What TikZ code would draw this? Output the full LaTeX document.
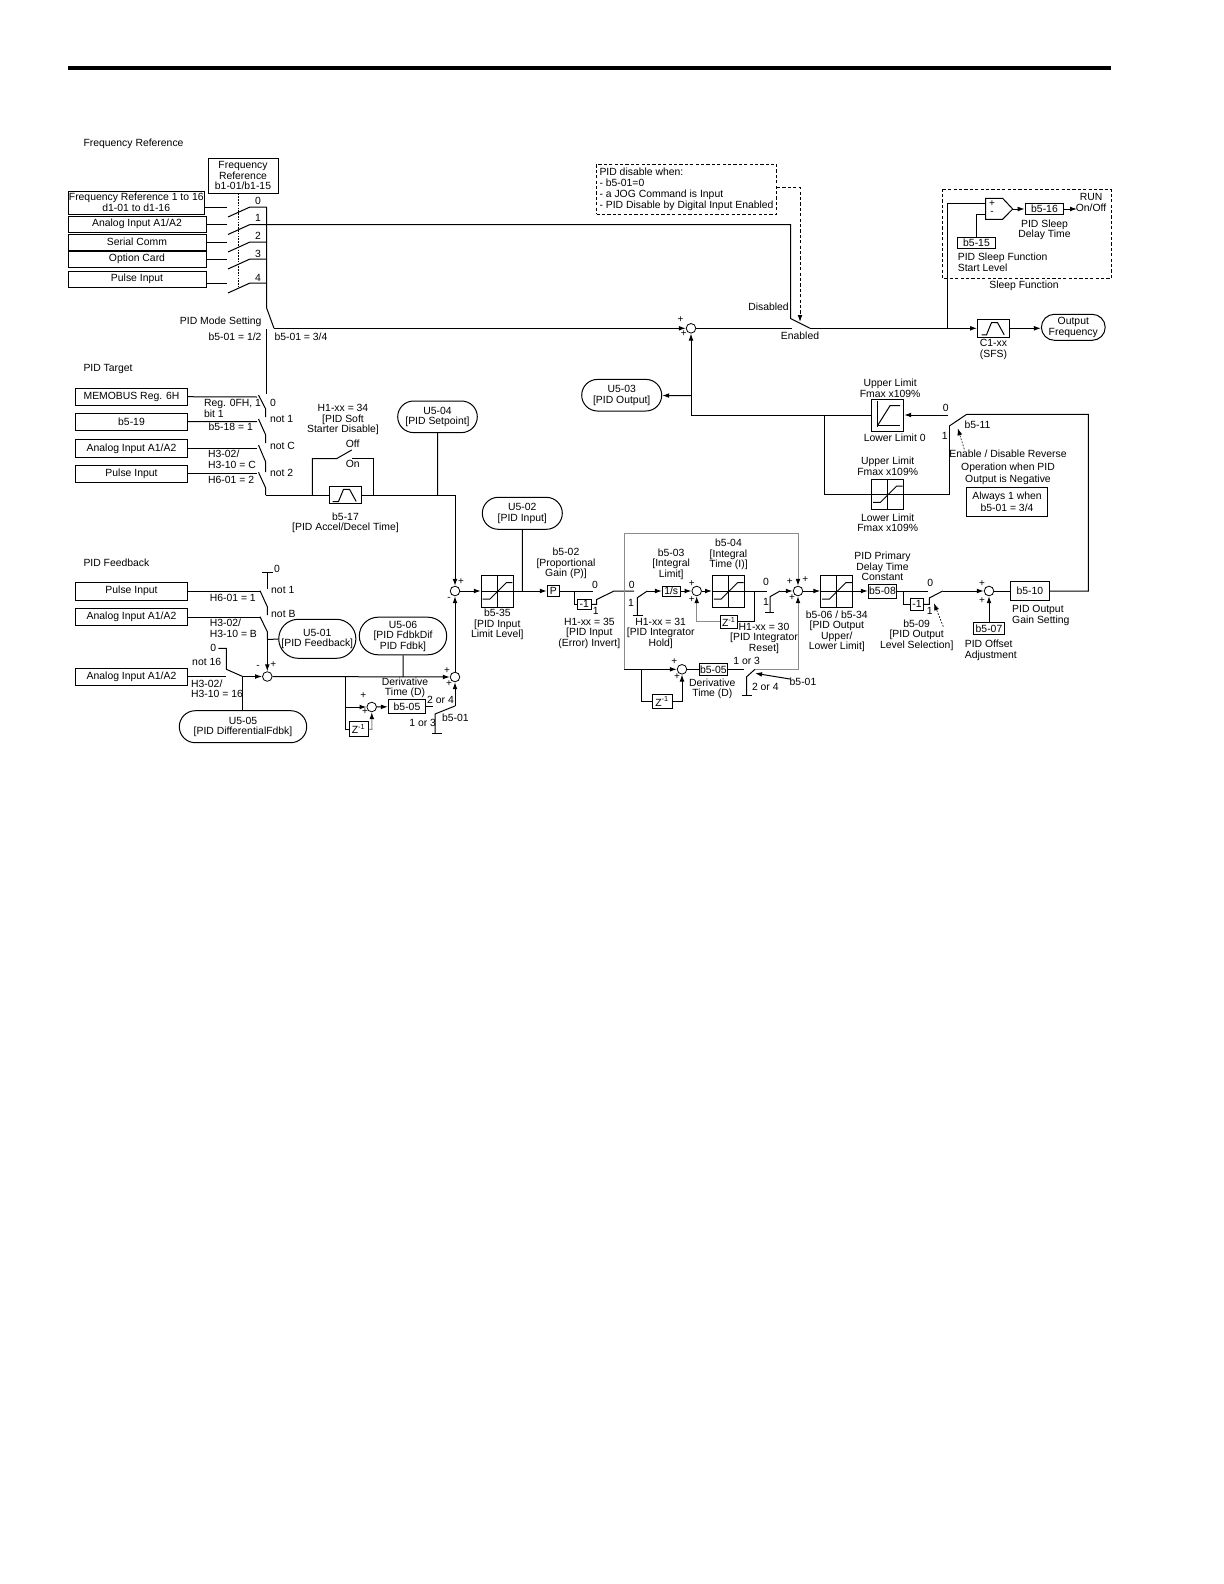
\documentclass[tikz,border=0pt]{standalone}
\usepackage{fontspec}
\setmainfont{Liberation Sans}
\usetikzlibrary{positioning,arrows.meta,shapes.misc}

\begin{document}
\begin{tikzpicture}[x=0.5pt,y=-0.5pt,line width=0.5pt,>={Latex[length=3.5pt,width=2.4pt]}]
    \tikzstyle{lbl}=[font=\fontsize{5.2}{5.25}\selectfont, inner sep=0pt, align=center]
    \tikzstyle{lbll}=[lbl, anchor=west, align=left]
    \tikzstyle{box}=[draw, rectangle, lbl]
    \tikzstyle{srcbox}=[box, minimum width=56.2pt]
    \tikzstyle{pill}=[draw, rounded rectangle, lbl]
    \tikzstyle{sum}=[circle, draw, fill=white, minimum size=4.8pt, inner sep=0pt, line width=0.4pt]
    \tikzstyle{lim}=[box, minimum width=16pt, minimum height=16pt]
    \tikzstyle{sg}=[lbl, font=\fontsize{5}{5}\selectfont]
    \tikzstyle{grayln}=[draw=black!45]
    \tikzstyle{dsh}=[dash pattern=on 1.6pt off 1.1pt]
    \tikzstyle{ptr}=[dash pattern=on 0.9pt off 0.7pt, line width=0.3pt]
    \useasboundingbox (0,0) rectangle (1224,1584);

    % Page rule
    \coordinate (RL) at (68,68);
    \coordinate (RR) at (1111,68);
    \draw[line width=2pt] (RL) -- (RR);

    % Frequency reference sources
    \node[lbll] (tFreq) at (83,143.5) {Frequency Reference};
    \node[box, minimum width=35pt, minimum height=17.5pt] (FRB) at (243,175.5) {Frequency\\Reference\\b1-01/b1-15};
    \node[box, minimum width=68.25pt, minimum height=11.5pt] (FS0) at (136.25,202.5) {Frequency Reference 1 to 16\\d1-01 to d1-16};
    \node[box, minimum width=69pt, minimum height=8pt] (FS1) at (137,224) {Analog Input A1/A2};
    \node[box, minimum width=69pt, minimum height=8pt] (FS2) at (137,242.25) {Serial Comm};
    \node[box, minimum width=69pt, minimum height=8pt] (FS3) at (137,259) {Option Card};
    \node[box, minimum width=69pt, minimum height=8pt] (FS4) at (137,279) {Pulse Input};

    % Frequency reference switch
    \foreach \n/\y/\t in {0/207/200.5,1/224.5/218,2/242/235.5,3/259/253.5,4/283/277.5} {
        \coordinate (FI\n) at (226.5,\y);
        \coordinate (FA\n) at (228,\y+10);
        \coordinate (FB\n) at (250,\y);
        \coordinate (FC\n) at (266.5,\y);
        \node[lbl] (fl\n) at (258,\t) {\n};
        \draw (FS\n.east |- FI\n) -- (FI\n);
        \draw (FA\n) -- (FB\n) -- (FC\n);
    }
    \coordinate (DT) at (238,287);
    \draw[dash pattern=on 0.8pt off 0.6pt] (FRB.south -| DT) -- (DT);

    % PID mode switch
    \coordinate (MA) at (266.5,307.7);
    \coordinate (MB) at (274,328.3);
    \coordinate (MC) at (266.5,329);
    \coordinate (TT) at (266.5,394);
    \draw (FC0) -- (MA) -- (MB);
    \draw (MC) -- (TT);
    \node[lbl, anchor=east] (tMode) at (262,321.5) {PID Mode Setting};
    \node[lbl, anchor=east] (tM12) at (262,337) {b5-01 = 1/2};
    \node[lbll] (tM34) at (274,337) {b5-01 = 3/4};

    % PID target sources
    \node[lbll] (tTarget) at (83,368.5) {PID Target};
    \node[srcbox, minimum height=8.5pt] (TS0) at (131.5,396.5) {MEMOBUS Reg. 6H};
    \node[srcbox, minimum height=8.7pt] (TS1) at (131.5,421.8) {b5-19};
    \node[srcbox, minimum height=8.8pt] (TS2) at (131.5,448.5) {Analog Input A1/A2};
    \node[srcbox, minimum height=8.5pt] (TS3) at (131.5,473.5) {Pulse Input};
    \foreach \n/\y/\a/\b/\c in {0/397/395/409/417,1/421.5/419/435/443,2/448.5/445/462/472,3/473.5/472.3/488/495} {
        \coordinate (TI\n) at (257,\y);
        \coordinate (TA\n) at (258.5,\a);
        \coordinate (TB\n) at (265.7,\b);
        \coordinate (TC\n) at (265.7,\c);
        \draw (TS\n) -- (TI\n);
        \draw (TA\n) -- (TB\n) -- (TC\n);
    }
    \node[lbll] (tReg) at (203.5,408.5) {Reg. 0FH, 1\\bit 1};
    \node[lbl] (tB18) at (230.7,427) {b5-18 = 1};
    \node[lbll] (tH3c) at (207.7,459.5) {H3-02/\\H3-10 = C};
    \node[lbll] (tH6a) at (207.7,479.5) {H6-01 = 2};
    \node[lbll] (tt0) at (269.5,403.3) {0};
    \node[lbll] (tt1) at (269.5,419) {not 1};
    \node[lbll] (tt2) at (269.5,446) {not C};
    \node[lbll] (tt3) at (269.5,473.3) {not 2};

    % PID soft starter
    \node[box, minimum width=16.2pt, minimum height=8.5pt] (B17) at (345.5,495) {};
    \draw[shift={(B17.center)}] (-13,6.5) -- (-7,6.5) -- (-2,-5.7) -- (4,-5.7) -- (10.7,6.5);
    \node[lbl, below=4.2pt of B17] (cB17) {b5-17\\{}[PID Accel/Decel Time]};
    \coordinate (SSA) at (312.3,495);
    \coordinate (SSB) at (312.3,458.7);
    \coordinate (SSC) at (336.5,458.7);
    \coordinate (SSD) at (351.7,450);
    \coordinate (SSE) at (352,458.7);
    \coordinate (SSF) at (373.3,458.7);
    \coordinate (SSG) at (373.3,495);
    \draw (TC3) -- (TC3 -| B17.west) -- (B17.west);
    \draw (SSA) -- (SSB) -- (SSC) -- (SSD);
    \draw (SSE) -- (SSF) -- (SSG);
    \node[lbl] (tH34) at (343,419.5) {H1-xx = 34\\{}[PID Soft\\Starter Disable]};
    \node[lbl] (tOff) at (352.7,443.5) {Off};
    \node[lbl] (tOn) at (352.7,464.3) {On};
    \node[pill, minimum width=39.8pt, minimum height=15.8pt] (U04) at (437.5,416.8) {U5-04\\{}[PID Setpoint]};

    % PID feedback sources
    \node[lbll] (tFb) at (83,563) {PID Feedback};
    \node[srcbox, minimum height=9pt] (FB0) at (131.5,591.3) {Pulse Input};
    \node[srcbox, minimum height=8.7pt] (FB1) at (131.5,617) {Analog Input A1/A2};
    \node[srcbox, minimum height=8.3pt] (FB2) at (131.5,677) {Analog Input A1/A2};
    \coordinate (FTa) at (261.7,572.7);
    \coordinate (FTb) at (272.7,572.7);
    \coordinate (FTc) at (267.3,572.7);
    \coordinate (FTd) at (267.3,589.3);
    \draw (FTa) -- (FTb);
    \draw (FTc) -- (FTd);
    \node[lbll] (tf0) at (273.5,568.7) {0};
    \foreach \n/\y/\a/\b/\c in {0/591.3/590.7/606.7/615,1/617/616.7/631.7/639.3} {
        \coordinate (FI\n x) at (260,\y);
        \coordinate (FA\n x) at (260,\a);
        \coordinate (FB\n x) at (267.3,\b);
        \coordinate (FC\n x) at (267.3,\c);
        \draw (FB\n) -- (FI\n x);
        \draw (FA\n x) -- (FB\n x) -- (FC\n x);
    }
    \node[lbll] (tf1) at (270.7,590) {not 1};
    \node[lbll] (tf2) at (270.7,614.3) {not B};
    \node[lbll] (tH61) at (209.3,597.7) {H6-01 = 1};
    \node[lbll] (tH3b) at (209.3,628.5) {H3-02/\\H3-10 = B};

    \node[sum] (SF) at (267.3,676.5) {};
    \node[sg] (pF1) at (258,666.7) {-};
    \node[sg] (pF2) at (273.3,664.3) {+};
    \node[pill, minimum width=37.4pt, minimum height=19.5pt] (U01) at (317.3,638.8) {U5-01\\{}[PID Feedback]};
    \draw[->] (FC1x) -- (SF);
    \draw (FC1x) -- (U01);

    % Differential feedback input
    \coordinate (G0) at (218.3,648.3);
    \coordinate (G1) at (226.3,648.3);
    \coordinate (G2) at (226.3,669.3);
    \coordinate (G3) at (242.7,676.5);
    \coordinate (G4) at (225.7,676.5);
    \draw (G0) -- (G1) -- (G2) -- (G3);
    \draw (FB2.east |- G4) -- (G4);
    \draw[->] (G3) -- (SF);
    \node[lbl] (tg0) at (213.3,648.3) {0};
    \node[lbl] (tg1) at (206.7,661.7) {not 16};
    \node[lbll] (tH16) at (190.7,689) {H3-02/\\H3-10 = 16};
    \node[pill, minimum width=63.7pt, minimum height=16pt] (U05) at (243,726.7) {U5-05\\{}[PID DifferentialFdbk]};
    \draw (G3) -- (U05.north -| G3);

    % Feedback derivative path
    \node[sum] (S3) at (455,677) {};
    \node[sg] (p31) at (447,670.3) {+};
    \node[sg] (p32) at (449,684) {+};
    \draw[->] (SF) -- (S3);
    \node[pill, minimum width=43.7pt, minimum height=18.8pt] (U06) at (403,636) {U5-06\\{}[PID FdbkDif\\PID Fdbk]};
    \draw (U06) -- (U06 |- S3);
    \node[lbl] (tDer1) at (405,687.7) {Derivative\\Time (D)};
    \coordinate (DJ) at (345.3,677);
    \coordinate (DK) at (345.3,707);
    \coordinate (DL) at (345.3,729.3);
    \coordinate (DM) at (372,729.3);
    \node[sum] (SD) at (371.7,707) {};
    \node[box, minimum width=9.5pt, minimum height=7.2pt] (Z1) at (358.8,729) {Z\textsuperscript{-1}};
    \node[box, minimum width=18.7pt, minimum height=7pt] (D05) at (407,706.5) {b5-05};
    \draw (DJ) -- (DL) -- (Z1.west |- DL);
    \draw[->] (DK) -- (SD);
    \draw[->] (SD) -- (D05);
    \draw[grayln, -{Latex[length=3.5pt,width=2.4pt,black]}] (Z1.east |- DM) -- (DM) -- (SD);
    \node[sg] (pD1) at (363.3,695.3) {+};
    \node[sg] (pD2) at (365,712) {+};
    \coordinate (DN) at (433,706.5);
    \coordinate (DO) at (435,714);
    \coordinate (DP) at (455,706);
    \coordinate (DQ) at (435,733.3);
    \coordinate (DR) at (431.7,733.3);
    \coordinate (DS) at (441.7,733.3);
    \draw (D05) -- (DN);
    \draw (DQ) -- (DO) -- (DP);
    \draw (DR) -- (DS);
    \draw[->] (DP) -- (S3);
    \node[lbl] (t24a) at (440.5,700) {2 or 4};
    \node[lbl] (t13a) at (422.7,722.7) {1 or 3};
    \node[lbl] (tb01a) at (455.3,717.7) {b5-01};

    % Error summing point
    \node[sum] (S1) at (455,591) {};
    \node[sg] (p11) at (461,582) {+};
    \node[sg] (p12) at (449,599) {-};
    \draw (B17) -- (B17 -| S1);
    \draw (U04) -- (U04 |- B17);
    \draw[->] (B17 -| S1) -- (S1);
    \draw[->] (S3) -- (S1);

    % Proportional path
    \node[lim] (B35) at (497.3,591) {};
    \node[lbl, below=0.5pt of B35] (cB35) {b5-35\\{}[PID Input\\Limit Level]};
    \node[pill, minimum width=40pt, minimum height=16pt] (U02) at (522.3,513.3) {U5-02\\{}[PID Input]};
    \node[box, minimum width=6pt, minimum height=5.3pt] (P) at (553.3,591) {P};
    \draw[->] (S1) -- (B35);
    \draw[->] (B35) -- (P);
    \draw (U02) -- (U02 |- B35);
    \node[lbl] (tB02) at (566,563.8) {b5-02\\{}[Proportional\\Gain (P)]};
    \node[box, minimum width=7pt, minimum height=5pt] (N1) at (584.3,604.3) {-1};
    \coordinate (PA) at (574.7,591);
    \coordinate (PB) at (592.7,591);
    \coordinate (PC) at (574.7,604.3);
    \coordinate (PD) at (596.7,604.3);
    \coordinate (PE) at (596.7,599.5);
    \coordinate (PF) at (614,591);
    \coordinate (PG) at (634,591);
    \draw (P) -- (PB);
    \draw (PA) -- (PC) -- (N1);
    \draw (N1) -- (PD) -- (PE) -- (PF) -- (PG);
    \node[lbl] (tp0) at (595,584.7) {0};
    \node[lbl] (tp1) at (595.7,610.7) {1};
    \node[lbl] (tH35) at (589.3,633) {H1-xx = 35\\{}[PID Input\\(Error) Invert]};

    % Integral path
    \coordinate (IA) at (637.3,597.7);
    \coordinate (IB) at (647.3,591);
    \coordinate (IC) at (637.3,615);
    \coordinate (ID) at (632.7,615);
    \coordinate (IE) at (643.3,615);
    \node[box, minimum width=8.8pt, minimum height=5pt] (Int) at (671.2,591) {1/s};
    \node[lbl, above=2.7pt of Int] (cInt) {b5-03\\{}[Integral\\Limit]};
    \node[sum] (SI) at (696.7,591) {};
    \node[lim] (B04) at (728.5,591) {};
    \node[lbl, above=2pt of B04] (cB04) {b5-04\\{}[Integral\\Time (I)]};
    \node[box, minimum width=8.3pt, minimum height=6.7pt] (ZI) at (729,621.7) {Z\textsuperscript{-1}};
    \draw (IC) -- (IA) -- (IB);
    \draw (ID) -- (IE);
    \draw[->] (IB) -- (Int);
    \draw[->] (Int) -- (SI);
    \draw[->] (SI) -- (B04);
    \coordinate (IF) at (754,591);
    \coordinate (IG) at (754,621.7);
    \coordinate (IH) at (766.7,591);
    \draw (B04) -- (IH);
    \draw (IF) -- (IG) -- (ZI);
    \coordinate (IJ) at (696.7,621.7);
    \draw[grayln, -{Latex[length=3.5pt,width=2.4pt,black]}] (ZI) -- (IJ) -- (SI);
    \node[sg] (pI1) at (691.7,584) {+};
    \node[sg] (pI2) at (691.7,599.3) {+};
    \node[lbl] (ti0) at (631.7,585.3) {0};
    \node[lbl] (ti1) at (631,602.7) {1};
    \node[lbl] (tH31) at (660.7,633.3) {H1-xx = 31\\{}[PID Integrator\\Hold]};
    \node[lbl] (tH30) at (764,638) {H1-xx = 30\\{}[PID Integrator\\Reset]};
    \node[lbl] (tj0) at (766,582) {0};
    \node[lbl] (tj1) at (766,601.7) {1};
    \coordinate (JA) at (770,596.7);
    \coordinate (JB) at (780,591);
    \coordinate (JC) at (770,612.3);
    \coordinate (JD) at (765,612.3);
    \coordinate (JE) at (774.3,612.3);
    \draw (JC) -- (JA) -- (JB);
    \draw (JD) -- (JE);

    % Output summing point and gray frame
    \node[sum] (SE) at (798,591) {};
    \node[sg] (pE1) at (789.7,582) {+};
    \node[sg] (pE2) at (805.3,580) {+};
    \node[sg] (pE3) at (792,597.3) {+};
    \draw[->] (JB) -- (SE);
    \coordinate (GA) at (624.3,669.3);
    \coordinate (GB) at (624.3,533.3);
    \coordinate (GC) at (798,533.3);
    \coordinate (GD) at (798,669.3);
    \coordinate (GE) at (755,669.3);
    \draw[grayln] (GA) -- (GB) -- (GC);
    \draw[grayln, -{Latex[length=3.5pt,width=2.4pt,black]}] (GC) -- (SE);
    \draw[grayln, -{Latex[length=3.5pt,width=2.4pt,black]}] (GE) -- (GD) -- (SE);

    % Derivative path inside the frame
    \node[sum] (SQ) at (682,669.3) {};
    \node[box, minimum width=14pt, minimum height=6pt] (Q05) at (713.3,669.3) {b5-05};
    \node[box, minimum width=10pt, minimum height=6.7pt] (ZD) at (662.3,701.5) {Z\textsuperscript{-1}};
    \coordinate (QA) at (641.7,669.3);
    \coordinate (QB) at (641.7,701.5);
    \coordinate (QC) at (682,701.5);
    \coordinate (QD) at (744,669.3);
    \coordinate (QE) at (746.7,676.7);
    \coordinate (QF) at (746.7,695);
    \coordinate (QG) at (741.7,695);
    \coordinate (QH) at (752.3,695);
    \coordinate (QJ) at (790,679);
    \coordinate (QK) at (755,673.3);
    \draw[->] (GA) -- (SQ);
    \draw (QA) -- (QB) -- (ZD);
    \draw[->] (ZD) -- (QC) -- (SQ);
    \draw (SQ) -- (Q05);
    \draw (Q05) -- (QD);
    \draw (QF) -- (QE) -- (GE);
    \draw (QG) -- (QH);
    \draw[->] (QJ) -- (QK);
    \node[sg] (pQ1) at (674.3,662) {+};
    \node[sg] (pQ2) at (677,676.7) {+};
    \node[lbl] (tDer2) at (712.3,689) {Derivative\\Time (D)};
    \node[lbl] (t13b) at (746.7,660.7) {1 or 3};
    \node[lbl] (t24b) at (765.3,686.7) {2 or 4};
    \node[lbl] (tb01b) at (803,682) {b5-01};

    % Output limit, delay and gain
    \node[lim] (B06) at (836.8,591) {};
    \node[lbl, below=1.3pt of B06] (cB06) {b5-06 / b5-34\\{}[PID Output\\Upper/\\Lower Limit]};
    \node[box, minimum width=14.2pt, minimum height=7pt] (B08) at (882.5,591) {b5-08};
    \node[lbl, above=1.2pt of B08] (cB08) {PID Primary\\Delay Time\\Constant};
    \node[box, minimum width=6.7pt, minimum height=6.2pt] (N2) at (917,604.3) {-1};
    \draw[->] (SE) -- (B06);
    \draw[->] (B06) -- (B08);
    \coordinate (LA) at (903.3,591);
    \coordinate (LB) at (903.3,604.3);
    \coordinate (LC) at (927.7,591);
    \coordinate (LD) at (929.3,604.3);
    \coordinate (LE) at (929.3,598);
    \coordinate (LF) at (942.7,591);
    \draw (B08) -- (LC);
    \draw (LA) -- (LB) -- (N2);
    \draw (N2) -- (LD) -- (LE) -- (LF);
    \coordinate (LG) at (943.3,626.7);
    \coordinate (LH) at (934,603.3);
    \draw[ptr, ->] (LG) -- (LH);
    \node[lbl] (tl0) at (930.3,582.7) {0};
    \node[lbl] (tl1) at (929.7,610.7) {1};
    \node[lbl] (tB09) at (916.7,635) {b5-09\\{}[PID Output\\Level Selection]};
    \node[sum] (SO) at (989,591) {};
    \node[sg] (pO1) at (982,584) {+};
    \node[sg] (pO2) at (982,600.7) {+};
    \draw[->] (LF) -- (SO);
    \node[box, minimum width=15.8pt, minimum height=5.8pt] (B07) at (989,628.5) {b5-07};
    \draw[->] (B07) -- (SO);
    \node[lbll] (tB07) at (964.3,650.5) {PID Offset\\Adjustment};
    \node[box, minimum width=19.5pt, minimum height=9.5pt] (B10) at (1029.8,591) {b5-10};
    \draw (SO) -- (B10);
    \node[lbll] (tB10) at (1011.7,615.5) {PID Output\\Gain Setting};

    % Reverse limit selection
    \node[lim] (UL) at (887.7,415) {};
    \draw[shift={(UL.center)}] (-10,-13.7) -- (-10,12.3) (-10,10.3) -- (12.3,10.3);
    \draw[shift={(UL.center)}] (-10,10.3) -- (2.3,-9.3) -- (12.3,-9.3);
    \node[lbl, above=0.3pt of UL, xshift=1.2pt] (cUL) {Upper Limit\\Fmax x109\%};
    \node[lbl, below=1.2pt of UL, xshift=3.5pt] (cULb) {Lower Limit 0};
    \node[lim, minimum height=15pt] (LL) at (887.7,494.3) {};
    \node[lbl, above=1.5pt of LL] (cLL) {Upper Limit\\Fmax x109\%};
    \node[lbl, below=1.8pt of LL] (cLLb) {Lower Limit\\Fmax x109\%};
    \coordinate (RA) at (1088.3,591);
    \coordinate (RB) at (1088.3,414.3);
    \coordinate (RC) at (966.7,414.3);
    \coordinate (RD) at (949.3,426);
    \coordinate (RE) at (947.7,415);
    \coordinate (RF) at (949.3,494.3);
    \draw (B10) -- (RA) -- (RB) -- (RC) -- (RD);
    \draw[->] (RE) -- (UL);
    \draw (LL) -- (RF) -- (RD);
    \node[lbl] (tr0) at (945.7,408) {0};
    \node[lbl] (tr1) at (944.7,436) {1};
    \node[lbll] (tB11) at (964,424.3) {b5-11};
    \coordinate (RG) at (964.3,449.3);
    \coordinate (RH) at (957.7,428.3);
    \draw[ptr, ->] (RG) -- (RH);
    \node[lbl] (tRev) at (1008,467.5) {Enable / Disable Reverse\\[1pt]Operation when PID\\[1pt]Output is Negative};
    \node[box, minimum width=40.7pt, minimum height=14.3pt] (AL) at (1007,502) {Always 1 when\\[0.6pt]b5-01 = 3/4};

    % Output feedback to the top summing point
    \node[sum] (ST) at (691,328.3) {};
    \node[sg] (pT1) at (680.5,320) {+};
    \node[sg] (pT2) at (683.8,334) {+};
    \draw[->] (MB) -- (ST);
    \coordinate (VJ) at (691,415);
    \coordinate (VU) at (691,395.7);
    \coordinate (VK) at (824.7,415);
    \node[pill, minimum width=40pt, minimum height=15.8pt] (U03) at (621.7,395.2) {U5-03\\{}[PID Output]};
    \draw (UL) -- (VJ);
    \draw[->] (VJ) -- (ST);
    \draw[->] (VU) -- (U03);
    \draw (VK) |- (LL);

    % Disable switch
    \node[lbll, draw, dsh, minimum width=89.7pt, minimum height=25pt, inner xsep=1.5pt] (DIS) at (596,189) {PID disable when:\\[0.3pt]- b5-01=0\\[0.3pt]- a JOG Command is Input\\[0.3pt]- PID Disable by Digital Input Enabled};
    \coordinate (EA) at (790.5,224.5);
    \coordinate (EB) at (790.5,318.5);
    \coordinate (EC) at (810,328.3);
    \coordinate (ED) at (791.5,328.3);
    \coordinate (EK) at (800,187.5);
    \coordinate (EL) at (800,322);
    \coordinate (EM) at (947.5,328.3);
    \draw (FC1) -- (EA) -- (EB) -- (EC);
    \draw (ST) -- (ED);
    \draw[dsh, ->] (DIS.east |- EK) -- (EK) -- (EL);
    \node[lbl] (tDis) at (768.5,306.7) {Disabled};
    \node[lbl] (tEn) at (800,336) {Enabled};

    % Output ramp
    \node[box, minimum width=16pt, minimum height=8.7pt] (C1) at (993.5,328.3) {};
    \draw[shift={(C1.center)}] (-12,6.5) -- (-7,6.5) -- (-2,-5.7) -- (4,-5.7) -- (10.7,6.5);
    \node[lbl, below=0.8pt of C1] (cC1) {C1-xx\\(SFS)};
    \node[pill, minimum width=31.9pt, minimum height=13pt] (OF) at (1073.3,327.3) {Output\\Frequency};
    \draw[->] (EC) -- (C1.west |- EC);
    \draw[->] (C1) -- (C1 -| OF.west);

    % Sleep function
    \coordinate (CA) at (985.7,198.3);
    \coordinate (CB) at (1002.6,198.3);
    \coordinate (CT) at (1012.7,209);
    \coordinate (CC) at (1002.6,219.3);
    \coordinate (CD) at (985.7,219.3);
    \coordinate (CP) at (985.7,203.3);
    \coordinate (CM) at (985.7,214.3);
    \draw (CA) -- (CB) -- (CT) -- (CC) -- (CD) -- cycle;
    \node[sg] (pC1) at (992,203.3) {+};
    \node[sg] (pC2) at (992,213.3) {-};
    \node[box, minimum width=19.3pt, minimum height=5.5pt] (B16) at (1044.5,209) {b5-16};
    \node[lbl, below=2pt of B16] (cB16) {PID Sleep\\Delay Time};
    \node[box, minimum width=19.3pt, minimum height=5.8pt] (B15) at (976.5,243) {b5-15};
    \node[lbll] (cB15) at (957.3,262.5) {PID Sleep Function\\Start Level};
    \node[lbl] (tRun) at (1091,202.5) {RUN\\On/Off};
    \coordinate (RN) at (1077,209);
    \draw (EM) |- (CP);
    \draw (B15.north) |- (CM);
    \draw[->] (CT) -- (B16);
    \draw[->] (B16) -- (RN);
    \coordinate (SLa) at (942.7,189.3);
    \coordinate (SLb) at (1111,189.3);
    \coordinate (SLc) at (1111,278.7);
    \coordinate (SLd) at (942.7,278.7);
    \draw[dsh] (SLa) -- (SLb) -- (SLc) -- (SLd) -- cycle;
    \node[lbl] (tSleep) at (1024,286) {Sleep Function};

    % Limiter curves
    \foreach \b in {B35,B04,B06,LL} {
        \draw (\b.north) -- (\b.south) (\b.west) -- (\b.east);
        \draw[shift={(\b.center)}] (-14.7,8) -- (-7.3,8) -- (9,-8.3) -- (15,-8.3);
    }
\end{tikzpicture}
\end{document}
